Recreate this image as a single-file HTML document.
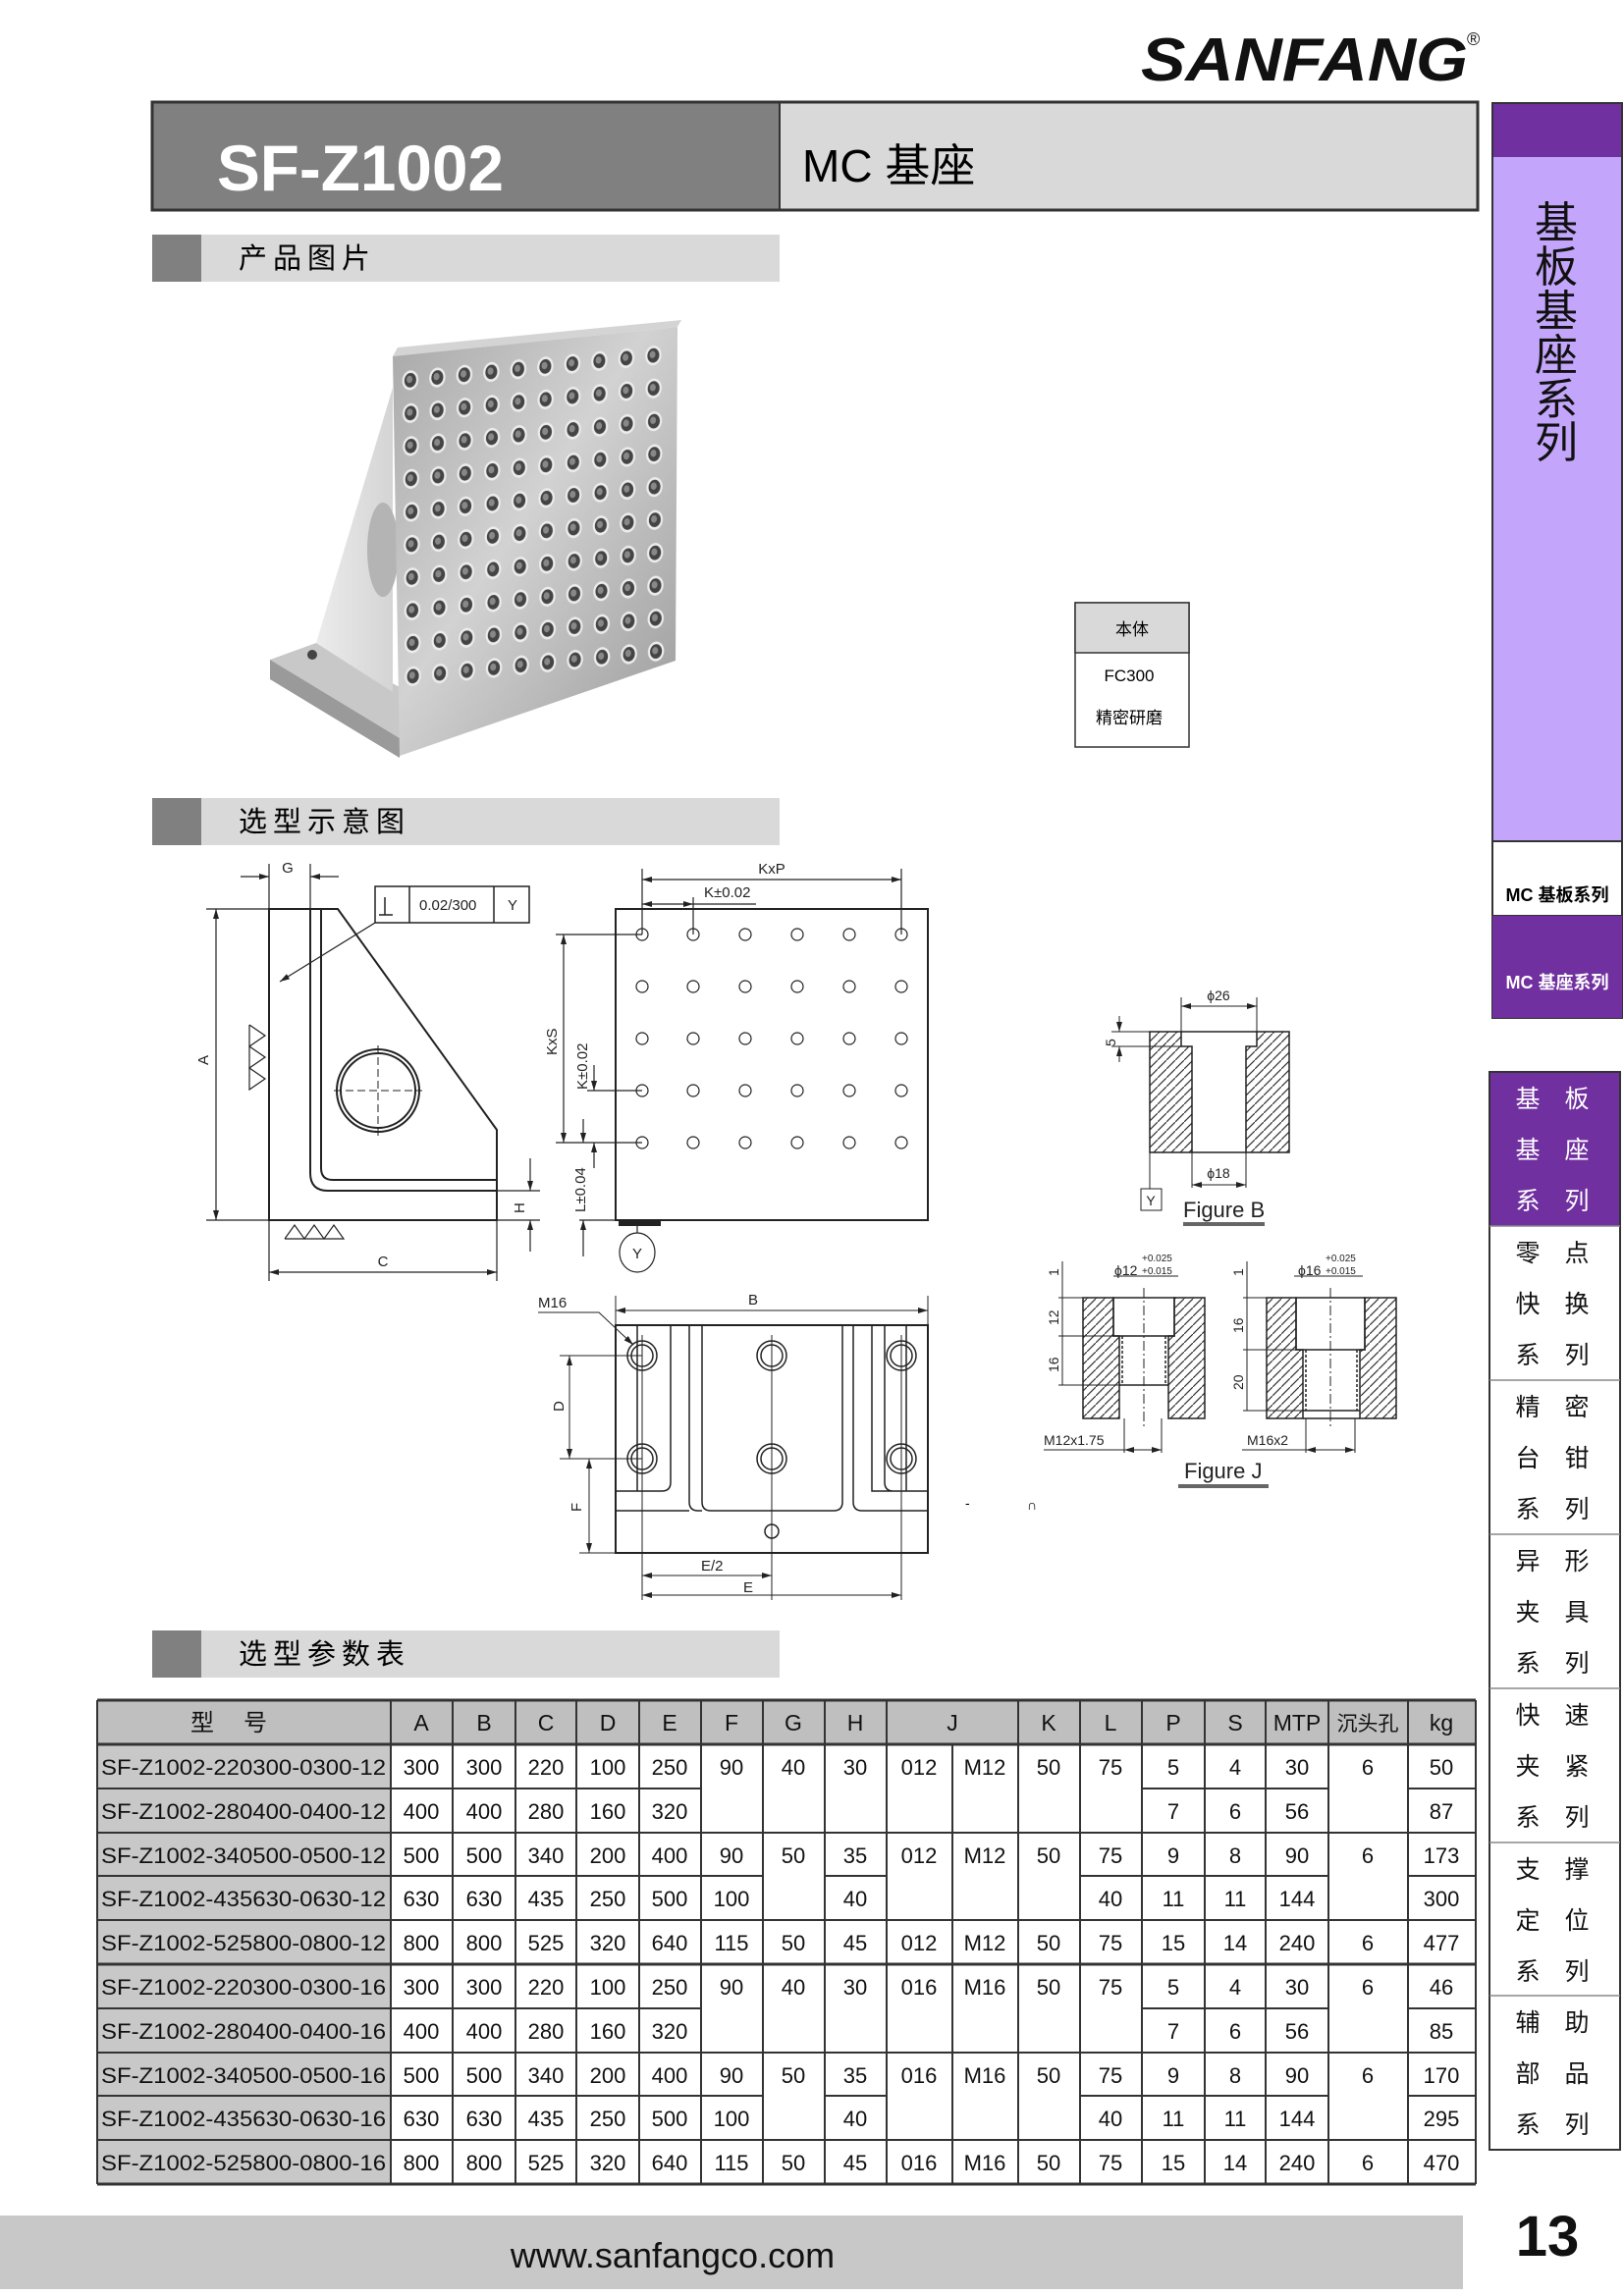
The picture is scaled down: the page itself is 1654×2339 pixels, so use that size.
<!DOCTYPE html>
<html><head><meta charset="utf-8"><style>
html,body{margin:0;padding:0;background:#fff}
svg{display:block}
text{font-family:"Liberation Sans","Noto Sans CJK SC",sans-serif}
.n{font-family:"Liberation Sans Narrow","Liberation Sans","Noto Sans CJK SC",sans-serif}
</style></head><body>
<svg width="1654" height="2339" viewBox="0 0 1654 2339" xmlns="http://www.w3.org/2000/svg">
<defs>
<pattern id="h" patternUnits="userSpaceOnUse" width="9" height="9"><path d="M-1,10 L10,-1" stroke="#333" stroke-width="1.2"/></pattern>
<pattern id="holes" patternUnits="userSpaceOnUse" width="1" height="1"><circle cx="0.5" cy="0.5" r="0.3" fill="#ececec"/><circle cx="0.5" cy="0.5" r="0.22" fill="#444"/><circle cx="0.47" cy="0.47" r="0.11" fill="#888"/></pattern>
<linearGradient id="pl" x1="0" y1="0" x2="1" y2="1"><stop offset="0" stop-color="#a8a8a8"/><stop offset="0.45" stop-color="#d2d2d2"/><stop offset="1" stop-color="#9a9a9a"/></linearGradient>
<linearGradient id="rb" x1="0" y1="0" x2="1" y2="0"><stop offset="0" stop-color="#ececec"/><stop offset="1" stop-color="#d4d4d4"/></linearGradient>
<marker id="a" viewBox="0 0 10 6" refX="10" refY="3" markerWidth="10" markerHeight="6" orient="auto-start-reverse" markerUnits="userSpaceOnUse"><path d="M0,0 L10,3 L0,6 Z" fill="#222"/></marker>
</defs>

<!-- logo -->
<text x="1162" y="82" font-size="62" font-weight="bold" font-style="italic" textLength="333" lengthAdjust="spacingAndGlyphs" fill="#111">SANFANG</text>
<text x="1494" y="46" font-size="18" fill="#111">®</text>

<!-- title -->
<rect x="155" y="104" width="639" height="110" fill="#808080"/>
<rect x="794" y="104" width="711" height="110" fill="#d9d9d9"/>
<rect x="155" y="104" width="1350" height="110" fill="none" stroke="#333" stroke-width="3"/>
<line x1="794" y1="104" x2="794" y2="214" stroke="#333" stroke-width="2"/>
<text x="221" y="194" font-size="66" font-weight="bold" fill="#fff" textLength="292" lengthAdjust="spacingAndGlyphs">SF-Z1002</text>
<text x="817" y="185" font-size="46" fill="#000">MC 基座</text>

<!-- section bars -->
<rect x="155" y="239" width="639" height="48" fill="#d9d9d9"/><rect x="155" y="239" width="50" height="48" fill="#808080"/>
<text x="243" y="273" font-size="29" letter-spacing="6">产品图片</text>
<rect x="155" y="813" width="639" height="48" fill="#d9d9d9"/><rect x="155" y="813" width="50" height="48" fill="#808080"/>
<text x="243" y="847" font-size="29" letter-spacing="6">选型示意图</text>
<rect x="155" y="1661" width="639" height="48" fill="#d9d9d9"/><rect x="155" y="1661" width="50" height="48" fill="#808080"/>
<text x="243" y="1695" font-size="29" letter-spacing="6">选型参数表</text>

<!-- right sidebar top -->
<rect x="1520" y="105" width="132" height="55" fill="#7030a0"/>
<rect x="1520" y="160" width="132" height="697" fill="#c3a6fb"/>
<rect x="1520" y="105" width="132" height="932" fill="none" stroke="#333" stroke-width="2"/>
<g font-size="44" text-anchor="middle" fill="#111">
<text x="1585" y="242">基</text><text x="1585" y="287">板</text><text x="1585" y="332">基</text><text x="1585" y="377">座</text><text x="1585" y="422">系</text><text x="1585" y="466">列</text></g>
<rect x="1520" y="857" width="132" height="76" fill="#fff" stroke="#333" stroke-width="2"/>
<text x="1586" y="918" font-size="18" text-anchor="middle" font-weight="bold">MC 基板系列</text>
<rect x="1520" y="933" width="132" height="104" fill="#7030a0"/>
<text x="1586" y="1007" font-size="18" text-anchor="middle" font-weight="bold" fill="#fff">MC 基座系列</text>

<!-- right sidebar list -->
<rect x="1517" y="1092" width="133" height="157" fill="#7030a0"/>
<rect x="1517" y="1092" width="133" height="1098" fill="none" stroke="#333" stroke-width="2"/>
<g stroke="#888" stroke-width="1.5"><line x1="1517" y1="1249" x2="1650" y2="1249"/><line x1="1517" y1="1406" x2="1650" y2="1406"/><line x1="1517" y1="1563" x2="1650" y2="1563"/><line x1="1517" y1="1720" x2="1650" y2="1720"/><line x1="1517" y1="1877" x2="1650" y2="1877"/><line x1="1517" y1="2033" x2="1650" y2="2033"/></g>
<g font-size="25" text-anchor="middle" fill="#111">
<g fill="#fff"><text x="1556" y="1128">基</text><text x="1606" y="1128">板</text><text x="1556" y="1180">基</text><text x="1606" y="1180">座</text><text x="1556" y="1232">系</text><text x="1606" y="1232">列</text></g>
<text x="1556" y="1285">零</text><text x="1606" y="1285">点</text><text x="1556" y="1337">快</text><text x="1606" y="1337">换</text><text x="1556" y="1389">系</text><text x="1606" y="1389">列</text>
<text x="1556" y="1442">精</text><text x="1606" y="1442">密</text><text x="1556" y="1494">台</text><text x="1606" y="1494">钳</text><text x="1556" y="1546">系</text><text x="1606" y="1546">列</text>
<text x="1556" y="1599">异</text><text x="1606" y="1599">形</text><text x="1556" y="1651">夹</text><text x="1606" y="1651">具</text><text x="1556" y="1703">系</text><text x="1606" y="1703">列</text>
<text x="1556" y="1756">快</text><text x="1606" y="1756">速</text><text x="1556" y="1808">夹</text><text x="1606" y="1808">紧</text><text x="1556" y="1860">系</text><text x="1606" y="1860">列</text>
<text x="1556" y="1913">支</text><text x="1606" y="1913">撑</text><text x="1556" y="1965">定</text><text x="1606" y="1965">位</text><text x="1556" y="2017">系</text><text x="1606" y="2017">列</text>
<text x="1556" y="2069">辅</text><text x="1606" y="2069">助</text><text x="1556" y="2121">部</text><text x="1606" y="2121">品</text><text x="1556" y="2173">系</text><text x="1606" y="2173">列</text>
</g>

<!-- product image -->
<polygon points="275,672 322,655 407,700 407,752" fill="#c8c8c8"/>
<polygon points="275,672 407,752 407,772 275,692" fill="#9a9a9a"/>
<polygon points="322,655 400,395 400,705" fill="url(#rb)"/>
<ellipse cx="390" cy="560" rx="16" ry="48" fill="#b4b4b4"/>
<circle cx="318" cy="667" r="5" fill="#444"/>
<polygon points="400,363 405,354 694,326 690,333" fill="#d4d4d4"/>
<polygon points="400,363 690,333 688,673 407,770" fill="url(#pl)"/>
<g transform="matrix(27.5,-2.8,0.3,33.5,404,372)"><rect x="0" y="0" width="10" height="10" fill="url(#holes)"/></g>

<!-- material table -->
<rect x="1095" y="614" width="116" height="147" fill="#fff" stroke="#333" stroke-width="1.5"/>
<rect x="1095" y="614" width="116" height="51" fill="#d9d9d9" stroke="#333" stroke-width="1.5"/>
<g font-size="17" text-anchor="middle"><text x="1153" y="647">本体</text><text x="1150" y="694">FC300</text><text x="1150" y="737">精密研磨</text></g>

<!-- drawings -->
<g fill="none" stroke="#222" stroke-width="2">
<path d="M274,926 L344,926 L506,1151 L506,1243 L274,1243 Z"/>
<path d="M316,926 V1195 Q316,1213 334,1213 H506"/>
<path d="M327,926 V1190 Q327,1202 339,1202 H506"/>
<circle cx="385" cy="1111" r="42"/><circle cx="385" cy="1111" r="38"/>
<g stroke-width="1" stroke-dasharray="8,4"><line x1="340" y1="1111" x2="430" y2="1111"/><line x1="385" y1="1065" x2="385" y2="1157"/></g>
<g stroke-width="1.2">
<line x1="210" y1="926" x2="274" y2="926"/><line x1="210" y1="1243" x2="550" y2="1243"/><line x1="220" y1="926" x2="220" y2="1243" marker-start="url(#a)" marker-end="url(#a)"/>
<line x1="274" y1="880" x2="274" y2="926"/><line x1="316" y1="880" x2="316" y2="926"/>
<line x1="245" y1="893" x2="274" y2="893" marker-end="url(#a)"/><line x1="345" y1="893" x2="316" y2="893" marker-end="url(#a)"/>
<line x1="274" y1="1243" x2="274" y2="1305"/><line x1="506" y1="1243" x2="506" y2="1305"/><line x1="274" y1="1296" x2="506" y2="1296" marker-start="url(#a)" marker-end="url(#a)"/>
<line x1="506" y1="1213" x2="550" y2="1213"/>
<line x1="540" y1="1180" x2="540" y2="1213" marker-end="url(#a)"/><line x1="540" y1="1275" x2="540" y2="1243" marker-end="url(#a)"/>
<line x1="382" y1="940" x2="285" y2="1000" marker-end="url(#a)"/>
<polyline points="254,1044 270,1055 254,1066 270,1077 254,1088 270,1099 254,1110 254,1044"/>
<polyline points="290,1262 300,1248 310,1262 320,1248 330,1262 340,1248 350,1262 290,1262"/>
</g>
<rect x="382" y="903" width="157" height="37" stroke-width="1.5"/>
<line x1="417" y1="903" x2="417" y2="940" stroke-width="1.5"/><line x1="503" y1="903" x2="503" y2="940" stroke-width="1.5"/>
<path d="M392,914 V932 M386,932 H400" stroke-width="1.5"/>

<!-- front plate -->
<rect x="627" y="926" width="318" height="317"/>
<g stroke-width="1.2">
<line x1="654" y1="885" x2="654" y2="952"/><line x1="918" y1="885" x2="918" y2="952"/><line x1="654" y1="896" x2="918" y2="896" marker-start="url(#a)" marker-end="url(#a)"/>
<line x1="706" y1="914" x2="706" y2="952"/><line x1="654" y1="921" x2="706" y2="921" marker-start="url(#a)" marker-end="url(#a)"/><line x1="706" y1="921" x2="770" y2="921"/>
<line x1="566" y1="952" x2="654" y2="952"/><line x1="566" y1="1164" x2="654" y2="1164"/><line x1="574" y1="952" x2="574" y2="1164" marker-start="url(#a)" marker-end="url(#a)"/>
<line x1="598" y1="1111" x2="654" y2="1111"/>
<line x1="605" y1="1085" x2="605" y2="1111" marker-end="url(#a)"/><line x1="605" y1="1190" x2="605" y2="1164" marker-end="url(#a)"/>
<line x1="590" y1="1243" x2="627" y2="1243"/>
<line x1="594" y1="1140" x2="594" y2="1164" marker-end="url(#a)"/><line x1="594" y1="1280" x2="594" y2="1243" marker-end="url(#a)"/>
</g>
<rect x="630" y="1243" width="43" height="6" fill="#222" stroke="none"/>
<line x1="649" y1="1249" x2="649" y2="1256" stroke-width="1.2"/>
<ellipse cx="649" cy="1276" rx="18" ry="20" stroke-width="1.2"/>
<g stroke-width="1.2">
<circle cx="654" cy="952" r="6"/><circle cx="706" cy="952" r="6"/><circle cx="759" cy="952" r="6"/><circle cx="812" cy="952" r="6"/><circle cx="865" cy="952" r="6"/><circle cx="918" cy="952" r="6"/>
<circle cx="654" cy="1005" r="6"/><circle cx="706" cy="1005" r="6"/><circle cx="759" cy="1005" r="6"/><circle cx="812" cy="1005" r="6"/><circle cx="865" cy="1005" r="6"/><circle cx="918" cy="1005" r="6"/>
<circle cx="654" cy="1058" r="6"/><circle cx="706" cy="1058" r="6"/><circle cx="759" cy="1058" r="6"/><circle cx="812" cy="1058" r="6"/><circle cx="865" cy="1058" r="6"/><circle cx="918" cy="1058" r="6"/>
<circle cx="654" cy="1111" r="6"/><circle cx="706" cy="1111" r="6"/><circle cx="759" cy="1111" r="6"/><circle cx="812" cy="1111" r="6"/><circle cx="865" cy="1111" r="6"/><circle cx="918" cy="1111" r="6"/>
<circle cx="654" cy="1164" r="6"/><circle cx="706" cy="1164" r="6"/><circle cx="759" cy="1164" r="6"/><circle cx="812" cy="1164" r="6"/><circle cx="865" cy="1164" r="6"/><circle cx="918" cy="1164" r="6"/>
</g>

<!-- bottom view -->
<rect x="627" y="1350" width="318" height="232"/>
<g stroke-width="1.5">
<path d="M649,1350 V1519 M683,1350 V1510 Q683,1519 674,1519 H627"/>
<path d="M702,1350 V1530 Q702,1539 711,1539 H715 M715,1350 V1530 Q715,1539 724,1539 H849 Q858,1539 858,1530 V1350 M869,1350 V1530 Q869,1539 878,1539 H888"/>
<path d="M888,1350 V1519 H945 M901,1350 V1510 Q901,1519 910,1519 M923,1350 V1519"/>
<line x1="627" y1="1539" x2="702" y2="1539"/><line x1="888" y1="1539" x2="945" y2="1539"/>
<circle cx="654" cy="1381" r="15"/><circle cx="654" cy="1381" r="11"/><circle cx="786" cy="1381" r="15"/><circle cx="786" cy="1381" r="11"/><circle cx="918" cy="1381" r="15"/><circle cx="918" cy="1381" r="11"/>
<circle cx="654" cy="1486" r="15"/><circle cx="654" cy="1486" r="11"/><circle cx="786" cy="1486" r="15"/><circle cx="786" cy="1486" r="11"/><circle cx="918" cy="1486" r="15"/><circle cx="918" cy="1486" r="11"/>
<circle cx="786" cy="1560" r="7"/>
</g>
<g stroke-width="1">
<line x1="654" y1="1360" x2="654" y2="1630"/><line x1="786" y1="1360" x2="786" y2="1630"/><line x1="918" y1="1360" x2="918" y2="1630"/>
<line x1="627" y1="1320" x2="627" y2="1350"/><line x1="945" y1="1320" x2="945" y2="1350"/><line x1="627" y1="1335" x2="945" y2="1335" marker-start="url(#a)" marker-end="url(#a)"/>
<line x1="570" y1="1381" x2="654" y2="1381"/><line x1="570" y1="1486" x2="654" y2="1486"/><line x1="580" y1="1381" x2="580" y2="1486" marker-start="url(#a)" marker-end="url(#a)"/>
<line x1="590" y1="1582" x2="627" y2="1582"/><line x1="600" y1="1486" x2="600" y2="1582" marker-start="url(#a)" marker-end="url(#a)"/>
<line x1="654" y1="1605" x2="786" y2="1605" marker-start="url(#a)" marker-end="url(#a)"/><line x1="654" y1="1625" x2="918" y2="1625" marker-start="url(#a)" marker-end="url(#a)"/>
<polyline points="548,1337 610,1337 645,1370" marker-end="url(#a)"/>
</g>

<!-- Figure B -->
<g stroke-width="1.5">
<path d="M1171,1051 H1203 V1066 H1214 V1174 H1171 Z" fill="url(#h)"/>
<path d="M1313,1051 H1280 V1066 H1269 V1174 H1313 Z" fill="url(#h)"/>
<line x1="1203" y1="1051" x2="1280" y2="1051"/><line x1="1214" y1="1174" x2="1269" y2="1174"/>
</g>
<g stroke-width="1">
<line x1="1203" y1="1016" x2="1203" y2="1051"/><line x1="1280" y1="1016" x2="1280" y2="1051"/><line x1="1203" y1="1025" x2="1280" y2="1025" marker-start="url(#a)" marker-end="url(#a)"/>
<line x1="1132" y1="1051" x2="1171" y2="1051"/><line x1="1132" y1="1066" x2="1214" y2="1066"/><line x1="1140" y1="1035" x2="1140" y2="1051" marker-end="url(#a)"/><line x1="1140" y1="1082" x2="1140" y2="1066" marker-end="url(#a)"/>
<line x1="1214" y1="1174" x2="1214" y2="1210"/><line x1="1269" y1="1174" x2="1269" y2="1210"/><line x1="1214" y1="1207" x2="1269" y2="1207" marker-start="url(#a)" marker-end="url(#a)"/>
<line x1="1171" y1="1174" x2="1171" y2="1211"/>
<rect x="1162" y="1211" width="21" height="22"/>
</g>
<!-- Figure J -->
<g stroke-width="1.5">
<path d="M1103,1322 H1134 V1361 H1140 V1445 H1103 Z" fill="url(#h)"/>
<path d="M1227,1322 H1196 V1361 H1190 V1445 H1227 Z" fill="url(#h)"/>
<rect x="1134" y="1322" width="62" height="39" fill="none"/>
<line x1="1140" y1="1411" x2="1190" y2="1411"/>
<path d="M1143,1361 V1411 M1187,1361 V1411" stroke-dasharray="3,2"/>
<path d="M1290,1322 H1320 V1375 H1327 V1445 H1290 Z" fill="url(#h)"/>
<path d="M1422,1322 H1390 V1375 H1385 V1445 H1422 Z" fill="url(#h)"/>
<rect x="1320" y="1322" width="70" height="53" fill="none"/>
<line x1="1327" y1="1437" x2="1385" y2="1437"/><line x1="1327" y1="1445" x2="1385" y2="1445"/>
<path d="M1330,1375 V1437 M1382,1375 V1437" stroke-dasharray="3,2"/>
</g>
<g stroke-width="1">
<line x1="1165" y1="1312" x2="1165" y2="1455" stroke-dasharray="10,3,2,3"/><line x1="1355" y1="1312" x2="1355" y2="1455" stroke-dasharray="10,3,2,3"/>
<line x1="1082" y1="1285" x2="1082" y2="1411"/><line x1="1078" y1="1322" x2="1103" y2="1322"/><line x1="1078" y1="1361" x2="1134" y2="1361"/><line x1="1078" y1="1411" x2="1140" y2="1411"/>
<line x1="1270" y1="1285" x2="1270" y2="1437"/><line x1="1266" y1="1322" x2="1290" y2="1322"/><line x1="1266" y1="1375" x2="1320" y2="1375"/><line x1="1266" y1="1437" x2="1327" y2="1437"/>
<line x1="1134" y1="1300" x2="1200" y2="1300"/><line x1="1318" y1="1300" x2="1388" y2="1300"/>
<line x1="1063" y1="1477" x2="1145" y2="1477"/><line x1="1145" y1="1445" x2="1145" y2="1480"/><line x1="1183" y1="1445" x2="1183" y2="1480"/><line x1="1145" y1="1477" x2="1183" y2="1477" marker-start="url(#a)" marker-end="url(#a)"/>
<line x1="1265" y1="1477" x2="1330" y2="1477"/><line x1="1330" y1="1445" x2="1330" y2="1480"/><line x1="1380" y1="1445" x2="1380" y2="1480"/><line x1="1330" y1="1477" x2="1380" y2="1477" marker-start="url(#a)" marker-end="url(#a)"/>
</g>
</g>
<rect x="1205" y="1245" width="83" height="4" fill="#666"/>
<rect x="1200" y="1512" width="92" height="4" fill="#666"/>

<g font-size="15" class="n" fill="#222">
<text x="293" y="889" text-anchor="middle">G</text>
<text x="427" y="927">0.02/300</text><text x="517" y="927">Y</text>
<text transform="translate(212,1085) rotate(-90)">A</text>
<text x="390" y="1290" text-anchor="middle">C</text>
<text transform="translate(534,1236) rotate(-90)">H</text>
<text x="786" y="890" text-anchor="middle">KxP</text>
<text x="717" y="914">K±0.02</text>
<text transform="translate(567,1075) rotate(-90)">KxS</text>
<text transform="translate(598,1110) rotate(-90)">K±0.02</text>
<text transform="translate(596,1235) rotate(-90)">L±0.04</text>
<text x="649" y="1282" text-anchor="middle">Y</text>
<text x="548" y="1332">M16</text>
<text x="762" y="1329">B</text>
<text transform="translate(574,1438) rotate(-90)">D</text>
<text transform="translate(592,1540) rotate(-90)">F</text>
<text x="714" y="1600">E/2</text>
<text x="757" y="1622">E</text>
</g>
<g font-size="14" fill="#222">
<text x="1241" y="1019" text-anchor="middle">ϕ26</text>
<text transform="translate(1136,1066) rotate(-90)">5</text>
<text x="1241" y="1200" text-anchor="middle">ϕ18</text>
<text x="1172" y="1228" text-anchor="middle">Y</text>
<text transform="translate(1078,1300) rotate(-90)">1</text>
<text transform="translate(1078,1350) rotate(-90)">12</text>
<text transform="translate(1078,1398) rotate(-90)">16</text>
<text transform="translate(1266,1300) rotate(-90)">1</text>
<text transform="translate(1266,1358) rotate(-90)">16</text>
<text transform="translate(1266,1416) rotate(-90)">20</text>
<text x="1135" y="1299">ϕ12</text><text x="1163" y="1285" font-size="10">+0.025</text><text x="1163" y="1298" font-size="10">+0.015</text>
<text x="1322" y="1299">ϕ16</text><text x="1350" y="1285" font-size="10">+0.025</text><text x="1350" y="1298" font-size="10">+0.015</text>
<text x="1063" y="1472">M12x1.75</text><text x="1270" y="1472">M16x2</text>
</g>
<text x="1205" y="1240" font-size="22" fill="#222">Figure B</text>
<text x="1206" y="1506" font-size="22" fill="#222">Figure J</text>
<text x="983" y="1536" font-size="14">-</text><text x="1046" y="1538" font-size="14">∩</text>

<!-- params table -->
<rect x="99" y="1732" width="1404" height="45" fill="#bfbfbf"/>
<rect x="99" y="1777" width="299" height="448" fill="#c8c8c8"/>
<g stroke="#333" stroke-width="2">
<line x1="99" y1="1732" x2="1503" y2="1732" stroke-width="3"/><line x1="99" y1="1777" x2="1503" y2="1777" stroke-width="3"/><line x1="99" y1="2225" x2="1503" y2="2225" stroke-width="3"/>
<line x1="99" y1="1732" x2="99" y2="2225"/><line x1="398" y1="1732" x2="398" y2="2225"/><line x1="461" y1="1732" x2="461" y2="2225"/><line x1="525" y1="1732" x2="525" y2="2225"/><line x1="587" y1="1732" x2="587" y2="2225"/><line x1="651" y1="1732" x2="651" y2="2225"/><line x1="714" y1="1732" x2="714" y2="2225"/><line x1="777" y1="1732" x2="777" y2="2225"/><line x1="840" y1="1732" x2="840" y2="2225"/><line x1="903" y1="1732" x2="903" y2="2225"/><line x1="970" y1="1777" x2="970" y2="2225"/><line x1="1037" y1="1732" x2="1037" y2="2225"/><line x1="1100" y1="1732" x2="1100" y2="2225"/><line x1="1163" y1="1732" x2="1163" y2="2225"/><line x1="1227" y1="1732" x2="1227" y2="2225"/><line x1="1289" y1="1732" x2="1289" y2="2225"/><line x1="1353" y1="1732" x2="1353" y2="2225"/><line x1="1434" y1="1732" x2="1434" y2="2225"/><line x1="1503" y1="1732" x2="1503" y2="2225"/>
<line x1="99" y1="1822" x2="714" y2="1822"/><line x1="1163" y1="1822" x2="1353" y2="1822"/><line x1="1434" y1="1822" x2="1503" y2="1822"/>
<line x1="99" y1="1867" x2="1503" y2="1867"/>
<line x1="99" y1="1911" x2="777" y2="1911"/><line x1="840" y1="1911" x2="903" y2="1911"/><line x1="1100" y1="1911" x2="1353" y2="1911"/><line x1="1434" y1="1911" x2="1503" y2="1911"/>
<line x1="99" y1="1956" x2="1503" y2="1956"/>
<line x1="99" y1="2001" x2="1503" y2="2001" stroke-width="3"/>
<line x1="99" y1="2046" x2="714" y2="2046"/><line x1="1163" y1="2046" x2="1353" y2="2046"/><line x1="1434" y1="2046" x2="1503" y2="2046"/>
<line x1="99" y1="2091" x2="1503" y2="2091"/>
<line x1="99" y1="2135" x2="777" y2="2135"/><line x1="840" y1="2135" x2="903" y2="2135"/><line x1="1100" y1="2135" x2="1353" y2="2135"/><line x1="1434" y1="2135" x2="1503" y2="2135"/>
<line x1="99" y1="2180" x2="1503" y2="2180"/>
</g>
<g class="n" font-size="23" text-anchor="middle" fill="#111">
<text x="248" y="1763" font-size="24" letter-spacing="30">型号</text>
<text x="429" y="1763">A</text><text x="493" y="1763">B</text><text x="556" y="1763">C</text><text x="619" y="1763">D</text><text x="682" y="1763">E</text><text x="745" y="1763">F</text><text x="808" y="1763">G</text><text x="871" y="1763">H</text><text x="970" y="1763">J</text><text x="1068" y="1763">K</text><text x="1131" y="1763">L</text><text x="1195" y="1763">P</text><text x="1258" y="1763">S</text><text x="1321" y="1763">MTP</text><text x="1393" y="1763" font-size="21">沉头孔</text><text x="1468" y="1763">kg</text>
</g>
<g class="n" font-size="22" fill="#111">
<text x="103" y="1808" textLength="290" lengthAdjust="spacingAndGlyphs">SF-Z1002-220300-0300-12</text>
<text x="103" y="1853" textLength="290" lengthAdjust="spacingAndGlyphs">SF-Z1002-280400-0400-12</text>
<text x="103" y="1898" textLength="290" lengthAdjust="spacingAndGlyphs">SF-Z1002-340500-0500-12</text>
<text x="103" y="1942" textLength="290" lengthAdjust="spacingAndGlyphs">SF-Z1002-435630-0630-12</text>
<text x="103" y="1987" textLength="290" lengthAdjust="spacingAndGlyphs">SF-Z1002-525800-0800-12</text>
<text x="103" y="2032" textLength="290" lengthAdjust="spacingAndGlyphs">SF-Z1002-220300-0300-16</text>
<text x="103" y="2077" textLength="290" lengthAdjust="spacingAndGlyphs">SF-Z1002-280400-0400-16</text>
<text x="103" y="2122" textLength="290" lengthAdjust="spacingAndGlyphs">SF-Z1002-340500-0500-16</text>
<text x="103" y="2166" textLength="290" lengthAdjust="spacingAndGlyphs">SF-Z1002-435630-0630-16</text>
<text x="103" y="2211" textLength="290" lengthAdjust="spacingAndGlyphs">SF-Z1002-525800-0800-16</text>
</g>
<g class="n" font-size="22" text-anchor="middle" fill="#111">
<g transform="translate(0,1808)"><text x="429">300</text><text x="493">300</text><text x="556">220</text><text x="619">100</text><text x="682">250</text><text x="745">90</text><text x="808">40</text><text x="871">30</text><text x="936">012</text><text x="1003">M12</text><text x="1068">50</text><text x="1131">75</text><text x="1195">5</text><text x="1258">4</text><text x="1321">30</text><text x="1393">6</text><text x="1468">50</text></g>
<g transform="translate(0,1853)"><text x="429">400</text><text x="493">400</text><text x="556">280</text><text x="619">160</text><text x="682">320</text><text x="1195">7</text><text x="1258">6</text><text x="1321">56</text><text x="1468">87</text></g>
<g transform="translate(0,1898)"><text x="429">500</text><text x="493">500</text><text x="556">340</text><text x="619">200</text><text x="682">400</text><text x="745">90</text><text x="808">50</text><text x="871">35</text><text x="936">012</text><text x="1003">M12</text><text x="1068">50</text><text x="1131">75</text><text x="1195">9</text><text x="1258">8</text><text x="1321">90</text><text x="1393">6</text><text x="1468">173</text></g>
<g transform="translate(0,1942)"><text x="429">630</text><text x="493">630</text><text x="556">435</text><text x="619">250</text><text x="682">500</text><text x="745">100</text><text x="871">40</text><text x="1131">40</text><text x="1195">11</text><text x="1258">11</text><text x="1321">144</text><text x="1468">300</text></g>
<g transform="translate(0,1987)"><text x="429">800</text><text x="493">800</text><text x="556">525</text><text x="619">320</text><text x="682">640</text><text x="745">115</text><text x="808">50</text><text x="871">45</text><text x="936">012</text><text x="1003">M12</text><text x="1068">50</text><text x="1131">75</text><text x="1195">15</text><text x="1258">14</text><text x="1321">240</text><text x="1393">6</text><text x="1468">477</text></g>
<g transform="translate(0,2032)"><text x="429">300</text><text x="493">300</text><text x="556">220</text><text x="619">100</text><text x="682">250</text><text x="745">90</text><text x="808">40</text><text x="871">30</text><text x="936">016</text><text x="1003">M16</text><text x="1068">50</text><text x="1131">75</text><text x="1195">5</text><text x="1258">4</text><text x="1321">30</text><text x="1393">6</text><text x="1468">46</text></g>
<g transform="translate(0,2077)"><text x="429">400</text><text x="493">400</text><text x="556">280</text><text x="619">160</text><text x="682">320</text><text x="1195">7</text><text x="1258">6</text><text x="1321">56</text><text x="1468">85</text></g>
<g transform="translate(0,2122)"><text x="429">500</text><text x="493">500</text><text x="556">340</text><text x="619">200</text><text x="682">400</text><text x="745">90</text><text x="808">50</text><text x="871">35</text><text x="936">016</text><text x="1003">M16</text><text x="1068">50</text><text x="1131">75</text><text x="1195">9</text><text x="1258">8</text><text x="1321">90</text><text x="1393">6</text><text x="1468">170</text></g>
<g transform="translate(0,2166)"><text x="429">630</text><text x="493">630</text><text x="556">435</text><text x="619">250</text><text x="682">500</text><text x="745">100</text><text x="871">40</text><text x="1131">40</text><text x="1195">11</text><text x="1258">11</text><text x="1321">144</text><text x="1468">295</text></g>
<g transform="translate(0,2211)"><text x="429">800</text><text x="493">800</text><text x="556">525</text><text x="619">320</text><text x="682">640</text><text x="745">115</text><text x="808">50</text><text x="871">45</text><text x="936">016</text><text x="1003">M16</text><text x="1068">50</text><text x="1131">75</text><text x="1195">15</text><text x="1258">14</text><text x="1321">240</text><text x="1393">6</text><text x="1468">470</text></g>
</g>

<!-- footer -->
<rect x="0" y="2257" width="1490" height="75" fill="#c8c8c8"/>
<text x="685" y="2310" font-size="36" text-anchor="middle" fill="#111">www.sanfangco.com</text>
<text x="1576" y="2298" font-size="58" font-weight="bold" text-anchor="middle" fill="#111">13</text>
</svg>
</body></html>
